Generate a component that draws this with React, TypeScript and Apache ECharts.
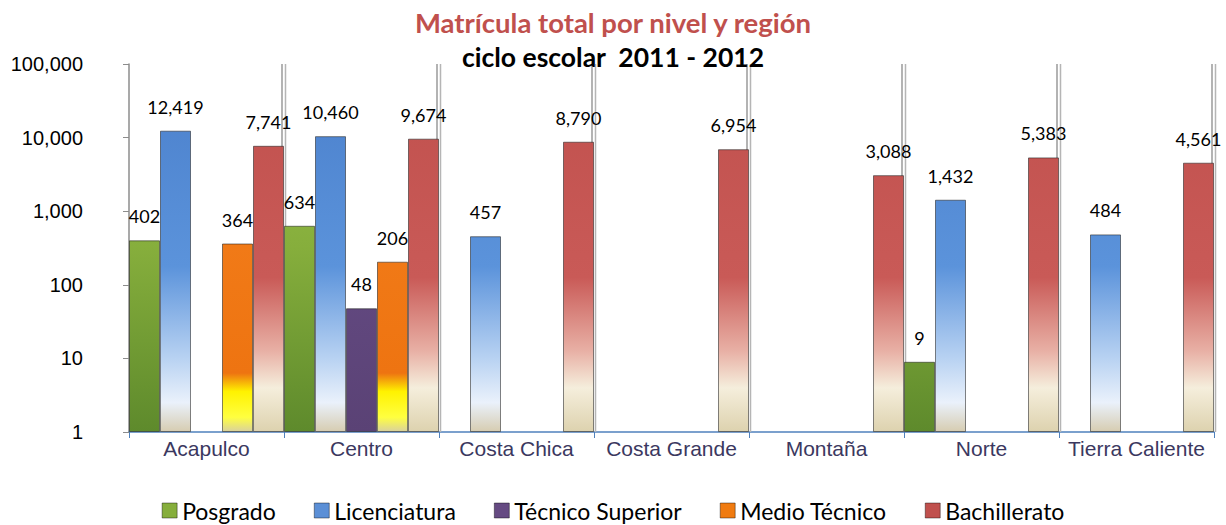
import React, { useEffect, useRef } from "react";
import * as echarts from "echarts";

const categories = ["Acapulco", "Centro", "Costa Chica", "Costa Grande", "Montaña", "Norte", "Tierra Caliente"];
const seriesNames = ["Posgrado", "Licenciatura", "Técnico Superior", "Medio Técnico", "Bachillerato"];
const posgrado = [402, 634, null, null, null, 9, null];
const licenciatura = [12419, 10460, 457, null, null, 1432, 484];
const tecnicoSuperior = [null, 48, null, null, null, null, null];
const medioTecnico = [364, 206, null, null, null, null, null];
const bachillerato = [7741, 9674, 8790, 6954, 3088, 5383, 4561];
const yMin = 1;
const yMax = 100000;

const PLOT_TOP = 64;
const PLOT_BOTTOM = 432;

function grad(stops: [number, string][]) {
  return new echarts.graphic.LinearGradient(
    0, PLOT_TOP, 0, PLOT_BOTTOM,
    stops.map(([offset, color]) => ({ offset, color })),
    true
  );
}

const fills = [
  grad([[0, "#9CC44C"], [0.5, "#86AE3C"], [1, "#5E8A2C"]]),
  grad([[0, "#4A7FCB"], [0.55, "#5B93DB"], [0.8, "#B8D2F2"], [0.92, "#EAF1FB"], [1, "#D6CCB0"]]),
  grad([[0, "#6E5290"], [1, "#5A4275"]]),
  grad([[0, "#F58220"], [0.84, "#EE7411"], [0.89, "#FFF200"], [0.96, "#FFFF40"], [1, "#D8D0A0"]]),
  grad([[0, "#C0504D"], [0.58, "#C95A57"], [0.78, "#E8B0A5"], [0.88, "#F5EEDC"], [1, "#DDD2AE"]]),
];
const solid = ["#86AE3C", "#5B8FD6", "#654A82", "#F07B10", "#C0504D"];
const dataSets = [posgrado, licenciatura, tecnicoSuperior, medioTecnico, bachillerato];

const fmt = (v: number) => Number(v).toLocaleString("en-US");

export default function App() {
  const ref = useRef<HTMLDivElement>(null);
  useEffect(() => {
    if (!ref.current) return;
    const chart = echarts.init(ref.current, null, { renderer: "svg" });
    chart.setOption({
      animation: false,
      backgroundColor: "#ffffff",
      title: [
        {
          text: "Matrícula total por nivel y región",
          left: "center",
          top: 3,
          textStyle: { fontFamily: "Lato", fontWeight: "bold", fontSize: 27.5, color: "#C0504D" },
        },
        {
          text: "ciclo escolar  2011 - 2012",
          left: "center",
          top: 38,
          textStyle: { fontFamily: "Lato", fontWeight: "bold", fontSize: 26.5, color: "#000000" },
        },
      ],
      legend: {
        top: 494,
        left: "center",
        itemWidth: 15,
        itemHeight: 15,
        itemGap: 38,
        icon: "rect",
        textStyle: { fontFamily: "Lato", fontSize: 23, color: "#000" },
        data: seriesNames.map((n, i) => ({ name: n, itemStyle: { color: solid[i], borderColor: "rgba(0,0,0,0.4)", borderWidth: 1 } })),
      },
      grid: { left: 129, right: 12, top: PLOT_TOP, bottom: 525 - PLOT_BOTTOM, containLabel: false },
      xAxis: {
        type: "category",
        data: categories,
        boundaryGap: true,
        axisLine: { show: true, lineStyle: { color: "#4F81BD", width: 1.5 } },
        axisTick: { show: true, interval: 0, length: 6, lineStyle: { color: "#4F81BD" } },
        axisLabel: { interval: 0, fontFamily: "Liberation Sans", fontSize: 21, color: "#3B3860", margin: 6 },
        splitLine: { show: false },
      },
      yAxis: {
        type: "log",
        logBase: 10,
        min: yMin,
        max: yMax,
        axisLine: { show: true, lineStyle: { color: "#8C8C8C", width: 1.5 } },
        axisTick: { show: true, length: 6, inside: false, lineStyle: { color: "#8C8C8C" } },
        axisLabel: {
          fontFamily: "Liberation Sans",
          fontSize: 20,
          color: "#000",
          margin: 46,
          formatter: (v: number) => fmt(v),
        },
        splitLine: { show: false },
      },
      series: [
        {
          name: "separadores",
          type: "custom",
          silent: true,
          z: 1,
          data: categories.map((c) => [c, yMax]),
          encode: { x: 0, y: 1 },
          renderItem: (params: any, api: any) => {
            const idx = api.value(0);
            const top = api.coord([idx, yMax]);
            const bottom = api.coord([idx, yMin]);
            const bw = api.size([1, 0])[0];
            const x = Math.round(top[0] + bw / 2);
            return {
              type: "group",
              children: [
                {
                  type: "line",
                  shape: { x1: x - 2, y1: top[1], x2: x - 2, y2: bottom[1] },
                  style: { stroke: "#9A9A9A", lineWidth: 1.5 },
                },
                {
                  type: "line",
                  shape: { x1: x + 1.5, y1: top[1], x2: x + 1.5, y2: bottom[1] },
                  style: { stroke: "#B5B5B5", lineWidth: 1.5 },
                },
              ],
            };
          },
        },
        ...dataSets.map((d, i) => ({
          name: seriesNames[i],
          type: "bar",
          z: 2,
          data: d.map((v) => (v == null ? "-" : v)),
          barGap: "0%",
          barCategoryGap: "0%",
          itemStyle: { color: fills[i], borderColor: "rgba(30,30,30,0.55)", borderWidth: 1 },
          label: {
            show: true,
            position: "top",
            distance: 15,
            fontFamily: "Lato",
            fontSize: 18,
            color: "#000",
            formatter: (p: any) => fmt(p.value),
          },
        })),
      ],
    });
    return () => chart.dispose();
  }, []);
  return <div ref={ref} style={{ position: "fixed", left: 0, top: 0, width: 1226, height: 525 }} />;
}
